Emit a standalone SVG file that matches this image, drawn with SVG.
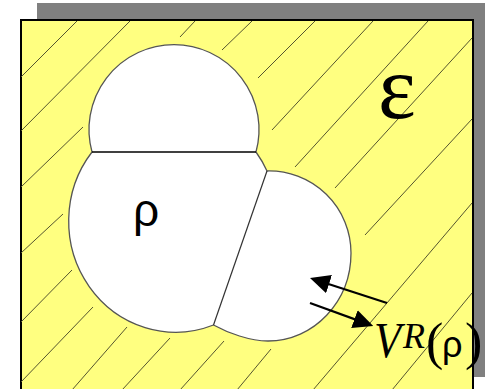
<svg xmlns="http://www.w3.org/2000/svg" width="485" height="389" viewBox="0 0 485 389">
  <style>
    .hatch { stroke: #55552f; stroke-width: 1; fill: none; }
    .outline { fill: #ffffff; stroke: #555555; stroke-width: 1.3; }
    .divider { stroke: #333333; stroke-width: 1.2; fill: none; }
    .arrow { stroke: #000000; stroke-width: 2.2; fill: none; marker-end: url(#head); }
    .serif { font-family: "Liberation Serif", "Times New Roman", serif; fill: #000; }
    .sans { font-family: "Liberation Sans", Arial, sans-serif; fill: #000; }
  </style>
  <defs>
    <marker id="head" markerUnits="userSpaceOnUse" viewBox="0 0 20 19" refX="16" refY="9.5" markerWidth="20" markerHeight="19" orient="auto">
      <path d="M0,0 L20,9.5 L0,19 Z" fill="#000"/>
    </marker>
  </defs>

  <g id="frame">
    <rect x="37" y="3" width="460" height="374" fill="#808080"/>
    <rect x="21" y="20" width="452" height="390" fill="#ffff80" stroke="#000" stroke-width="2"/>
    <g id="hatching" class="hatch">
      <line x1="21" y1="77" x2="77" y2="21"/>
      <line x1="21" y1="131" x2="130" y2="21"/>
      <line x1="21" y1="187" x2="83" y2="127"/>
      <line x1="180" y1="37" x2="195" y2="21"/>
      <line x1="222" y1="50" x2="252" y2="21"/>
      <line x1="258" y1="78" x2="315" y2="21"/>
      <line x1="272" y1="130" x2="373" y2="21"/>
      <line x1="295" y1="167" x2="428" y2="21"/>
      <line x1="335" y1="188" x2="472" y2="38"/>
      <line x1="365" y1="235" x2="472" y2="119"/>
      <line x1="313" y1="390" x2="472" y2="203"/>
      <line x1="392" y1="390" x2="472" y2="293"/>
      <line x1="21" y1="253" x2="63" y2="214"/>
      <line x1="21" y1="322" x2="72" y2="270"/>
      <line x1="21" y1="382" x2="93" y2="307"/>
      <line x1="72" y1="390" x2="127" y2="327"/>
      <line x1="122" y1="390" x2="170" y2="338"/>
      <line x1="180" y1="390" x2="224" y2="341"/>
      <line x1="237" y1="390" x2="271" y2="349"/>
    </g>
  </g>

  <g id="region">
    <path class="outline" d="M92,152 A85,85 0 1 1 256,152 A107,111 0 0 1 267,171 A82,82 0 0 1 351,253 C351,301.6 313.8,341 268,341 C250,341 228,333 213.5,325 A107,111 0 0 1 92,152 Z"/>
    <line x1="92" y1="152" x2="256" y2="152" stroke="#000" stroke-width="1.5"/>
    <line class="divider" x1="267" y1="171" x2="213.5" y2="325"/>
  </g>

  <g id="label-epsilon">
    <text class="serif" x="378" y="118" font-size="90">ε</text>
  </g>
  <g id="label-rho">
    <text class="sans" x="133" y="226" font-size="46">ρ</text>
  </g>
  <g id="label-vr">
    <text class="serif" x="374" y="357" font-size="50" font-style="italic" textLength="27" lengthAdjust="spacingAndGlyphs">V</text>
    <text class="serif" x="403" y="348" font-size="36" font-style="italic">R</text>
    <text class="serif" x="426" y="359" font-size="52">(</text>
    <text class="sans" x="442" y="357" font-size="36">ρ</text>
    <text class="serif" x="465" y="359" font-size="52">)</text>
  </g>

  <g id="connectors">
    <line class="arrow" x1="387" y1="303" x2="313.8" y2="279.2"/>
    <line class="arrow" x1="310" y1="303" x2="369.5" y2="324.6"/>
  </g>
</svg>
